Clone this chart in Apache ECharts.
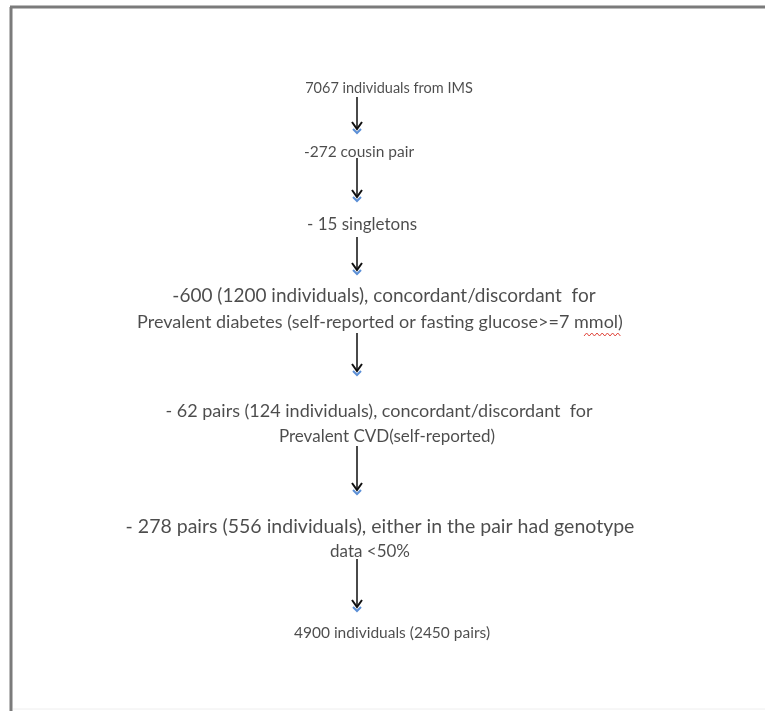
<!DOCTYPE html>
<html>
<head>
<meta charset="utf-8">
<script src="https://cdn.jsdelivr.net/npm/echarts@6/dist/echarts.min.js"></script>
<style>
  html, body { margin: 0; padding: 0; background: #fff; }
  #chart { width: 765px; height: 711px; }
</style>
</head>
<body>
<div id="chart"></div>
<script>
// text lines of the selection flow, top to bottom
var lineText = [
  '7067 individuals from IMS',
  '-272 cousin pair',
  '- 15 singletons',
  '-600 (1200 individuals), concordant/discordant  for',
  'Prevalent diabetes (self-reported or fasting glucose>=7 mmol)',
  '- 62 pairs (124 individuals), concordant/discordant  for',
  'Prevalent CVD(self-reported)',
  '- 278 pairs (556 individuals), either in the pair had genotype',
  'data <50%',
  '4900 individuals (2450 pairs)'
]
// layout of each line on the page (px units of a hidden axis)
var lineX = [389, 359, 362, 384, 380, 379, 387, 380, 370, 392]
var lineY = [88, 152, 225, 296, 322, 411, 437, 527, 552, 633]
var lineSize = [14.5, 15.5, 17, 19, 18, 18, 17, 19.5, 17, 15.5]
// arrows between the steps: [start y, end y]
var arrowX = 357
var arrowY = [[97, 130], [158, 198], [237, 271], [333, 372], [446, 491], [559, 608]]

var chart = echarts.init(document.getElementById('chart'))

var textData = lineText.map(function (t, i) {
  return {
    value: [lineX[i], lineY[i]],
    text: t,
    label: { fontSize: lineSize[i] }
  }
})
var arrowData = arrowY.map(function (a) {
  return [arrowX, a[0], a[1]]
})

// spell-check squiggle under "mmol"
var squiggle = []
for (var k = 0; k <= 14; k++) {
  squiggle.push([584 + k * 2.6, k % 2 ? 333 : 336])
}

var option = {
  animation: false,
  grid: { left: 0, right: 0, top: 0, bottom: 0 },
  xAxis: { type: 'value', min: 0, max: 765, show: false },
  yAxis: { type: 'value', min: 0, max: 711, inverse: true, show: false },
  graphic: [
    // frame of the original figure
    { type: 'line', shape: { x1: 11, y1: 7, x2: 11, y2: 711 }, style: { stroke: '#7b7b7b', lineWidth: 3 } },
    { type: 'line', shape: { x1: 10, y1: 7, x2: 765, y2: 7 }, style: { stroke: '#7b7b7b', lineWidth: 3 } },
    { type: 'line', shape: { x1: 13, y1: 709, x2: 765, y2: 709 }, style: { stroke: '#eeeeee', lineWidth: 1 } },
    { type: 'polyline', shape: { points: squiggle }, style: { stroke: '#e0463c', lineWidth: 1, fill: null } }
  ],
  series: [
    {
      type: 'custom',
      renderItem: function (params, api) {
        var top = api.coord([api.value(0), api.value(1)])
        var tip = api.coord([api.value(0), api.value(2)])
        var x = top[0]
        return {
          type: 'group',
          children: [
            { type: 'line', shape: { x1: x, y1: top[1], x2: x, y2: tip[1] - 2 }, style: { stroke: '#4a4a4a', lineWidth: 2 } },
            { type: 'polyline', shape: { points: [[x - 5, tip[1] - 8], [x, tip[1] - 1], [x + 5, tip[1] - 8]] }, style: { stroke: '#111', lineWidth: 2, fill: null } },
            { type: 'polyline', shape: { points: [[x - 4, tip[1] - 1], [x, tip[1] + 3], [x + 4, tip[1] - 1]] }, style: { stroke: '#5b8fd6', lineWidth: 2, fill: null } }
          ]
        }
      },
      data: arrowData,
      z: 1
    },
    {
      type: 'scatter',
      symbolSize: 0,
      data: textData,
      label: {
        show: true,
        position: 'inside',
        formatter: function (p) { return p.data.text },
        fontFamily: 'Lato',
        color: '#1f1f1f',
        align: 'center',
        verticalAlign: 'middle'
      },
      z: 2
    }
  ]
}
chart.setOption(option)
</script>
</body>
</html>
